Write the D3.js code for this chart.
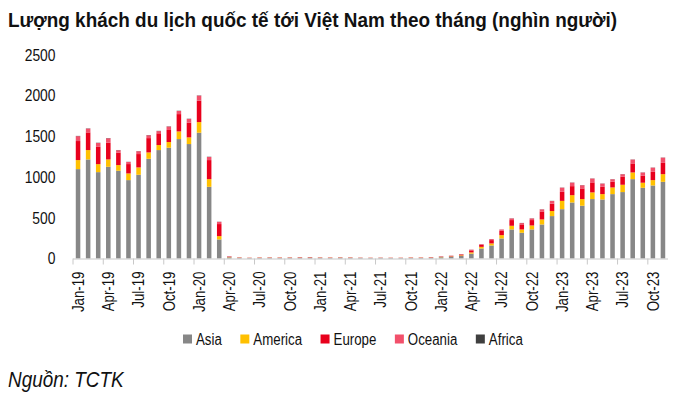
<!DOCTYPE html>
<html><head><meta charset="utf-8">
<script src="https://cdn.jsdelivr.net/npm/d3@7"></script>
<style>
html,body{margin:0;padding:0;background:#fff;}
svg{display:block;}
text{font-family:"Liberation Sans","Arial",sans-serif;}
</style></head>
<body>
<svg id="chart" width="691" height="394"></svg>
<script>
const months = ["Jan-19","Feb-19","Mar-19","Apr-19","May-19","Jun-19","Jul-19","Aug-19","Sep-19","Oct-19","Nov-19","Dec-19",
"Jan-20","Feb-20","Mar-20","Apr-20","May-20","Jun-20","Jul-20","Aug-20","Sep-20","Oct-20","Nov-20","Dec-20",
"Jan-21","Feb-21","Mar-21","Apr-21","May-21","Jun-21","Jul-21","Aug-21","Sep-21","Oct-21","Nov-21","Dec-21",
"Jan-22","Feb-22","Mar-22","Apr-22","May-22","Jun-22","Jul-22","Aug-22","Sep-22","Oct-22","Nov-22","Dec-22",
"Jan-23","Feb-23","Mar-23","Apr-23","May-23","Jun-23","Jul-23","Aug-23","Sep-23","Oct-23","Nov-23"];

const asia = [1098,1217,1061,1127,1078,963,1029,1225,1332,1361,1467,1406,
1545,881,234,14,9,7,8,9,8,9,10,11,
9,8,10,9,8,7,8,7,7,8,8,10,
15,22,32,60,123,160,246,357,316,357,418,521,
606,688,648,730,725,791,816,975,869,897,942];
const america = [111,115,98,90,70,82,90,78,62,70,94,82,
131,94,41,3,2,1,2,2,2,2,2,2,
2,2,2,2,1,1,1,1,1,2,2,2,
3,4,7,15,20,25,41,45,41,49,62,62,
102,90,82,82,66,82,90,82,62,66,94];
const europe = [234,217,213,205,152,115,164,176,144,148,213,180,
262,234,148,6,3,2,3,3,3,3,4,4,
3,3,3,3,2,2,2,2,2,3,3,4,
5,6,10,25,25,41,53,70,62,66,98,90,
111,111,131,123,90,70,98,111,86,102,139];
const oceania = [60,47,47,55,30,26,35,35,27,42,38,46,
63,38,27,2,1,1,1,1,1,1,1,1,
1,1,1,1,1,1,1,1,1,1,1,1,
1,2,3,8,8,12,16,20,16,20,25,33,
51,43,39,47,39,30,31,47,39,51,64];
const africa = [3,3,3,3,3,2,2,3,3,3,3,3,
3,3,2,1,0,0,0,0,0,0,0,0,
0,0,0,0,0,0,0,0,0,0,0,0,
1,1,1,1,1,1,1,2,2,2,2,2,
2,2,2,2,2,2,2,2,2,2,2];

const seriesNames = ["Asia","America","Europe","Oceania","Africa"];
const seriesColors = ["#878787","#FFC000","#E8001C","#F2506B","#3F3F3F"];
const yTicks = [0,500,1000,1500,2000,2500];
const titleText = "Lượng khách du lịch quốc tế tới Việt Nam theo tháng (nghìn người)";
const sourceText = "Nguồn: TCTK";

const table = months.map((m,i)=>({month:m, Asia:asia[i], America:america[i], Europe:europe[i], Oceania:oceania[i], Africa:africa[i]}));

const svg = d3.select("#chart");
const mLeft = 73, mRight = 668, mTop = 55, mBottom = 258.5;
const FONT = '"Liberation Sans","Arial",sans-serif';

// emulate a narrow typeface by compressing glyphs horizontally
function narrow(sel, f){
  sel.each(function(){
    const w = this.getComputedTextLength();
    d3.select(this).attr("textLength", w*f).attr("lengthAdjust","spacingAndGlyphs");
  });
}

const x = d3.scaleBand().domain(months).range([mLeft,mRight]).paddingInner(0.55).paddingOuter(0.275);
const y = d3.scaleLinear().domain([0,2500]).range([mBottom,mTop]);
const color = d3.scaleOrdinal().domain(seriesNames).range(seriesColors);

const stacked = d3.stack().keys(seriesNames)(table);

svg.append("g").selectAll("g").data(stacked).join("g")
  .attr("fill", d=>color(d.key))
  .selectAll("rect").data(d=>d).join("rect")
  .attr("x", d=>x(d.data.month))
  .attr("width", x.bandwidth())
  .attr("y", d=>y(d[1]))
  .attr("height", d=>Math.max(0, y(d[0])-y(d[1])));

// y axis
const yAxis = svg.append("g").attr("transform",`translate(${mLeft-17.5},0)`)
  .call(d3.axisLeft(y).tickValues(yTicks).tickSize(0).tickPadding(0).tickFormat(d3.format("d")));
yAxis.select(".domain").remove();
yAxis.selectAll("text").attr("font-size",16.5).attr("fill","#111").attr("font-family",FONT);
narrow(yAxis.selectAll("text"), 0.84);

// x axis
const xAxis = svg.append("g").attr("transform",`translate(0,${mBottom})`)
  .call(d3.axisBottom(x).tickValues(months.filter((m,i)=>i%3===0)).tickSize(0).tickPadding(0));
xAxis.select(".domain").attr("stroke","#c8c8c8").attr("d",`M${mLeft},0.5H${mRight}`);
xAxis.selectAll(".tick text")
  .attr("font-size",16).attr("fill","#111")
  .attr("font-family",FONT)
  .attr("text-anchor","end")
  .attr("transform","rotate(-90)")
  .attr("x",-13).attr("y",0).attr("dy","0.36em");
narrow(xAxis.selectAll(".tick text"), 0.83);
// boundary tick marks every 3 months
const bounds = months.filter((m,i)=>i%3===0).map(m=>x(m)-x.step()*x.paddingInner()/2);
svg.append("g").selectAll("line").data(bounds).join("line")
  .attr("x1",d=>d).attr("x2",d=>d)
  .attr("y1",mBottom).attr("y2",mBottom+6)
  .attr("stroke","#c8c8c8").attr("stroke-width",1);

// title
const title = svg.append("text").attr("x",8).attr("y",27)
  .attr("font-size",20.5).attr("font-weight","bold").attr("fill","#111")
  .text(titleText);
title.attr("textLength",609).attr("lengthAdjust","spacingAndGlyphs");

// legend
const lg = svg.append("g").selectAll("g").data(seriesNames).join("g");
lg.append("rect").attr("x",0).attr("y",-4.5).attr("width",9).attr("height",9).attr("fill",d=>color(d));
const lgText = lg.append("text").attr("x",13).attr("y",0).attr("dy","0.36em").attr("font-size",16).attr("fill","#111").text(d=>d);
narrow(lgText, 0.83);
let cx = 183;
lg.each(function(d,i){
  d3.select(this).attr("transform",`translate(${cx},339)`);
  const w = +d3.select(this).select("text").attr("textLength");
  cx += 13 + w + 18.5;
});

// source
const src = svg.append("text").attr("x",8).attr("y",387).attr("font-size",21.5).attr("font-style","italic").attr("fill","#111").text(sourceText);
narrow(src, 0.88);
</script>
</body></html>
